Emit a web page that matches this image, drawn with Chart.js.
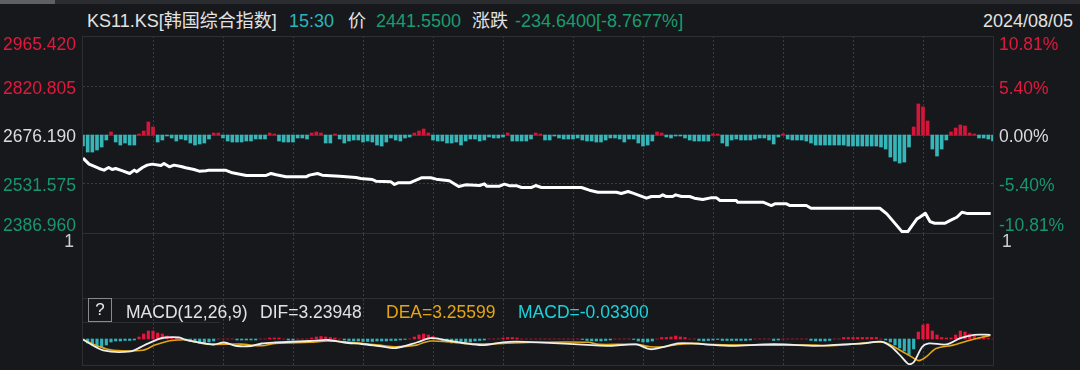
<!DOCTYPE html>
<html>
<head>
<meta charset="utf-8">
<title>KS11.KS 韩国综合指数 分时</title>
<script src="https://cdn.jsdelivr.net/npm/chart.js"></script>
<style>
  html, body { margin: 0; padding: 0; background: #16181c; }
  body { width: 1080px; height: 370px; position: relative; overflow: hidden;
         font-family: "Liberation Sans", "Noto Sans CJK SC", sans-serif; color: #e2e2e2; }
  .tabs { position: absolute; left: 0; top: 0; width: 1080px; height: 4px; background: #2a2c30; }
  .tabs .on { position: absolute; left: 0; top: 0; width: 55px; height: 4px; background: #5e6065; }
  .head { position: absolute; top: 11px; font-size: 18px; line-height: 20px; white-space: nowrap; }
  .legend { position: absolute; top: 302px; font-size: 17.5px; line-height: 20px; white-space: nowrap; }
  .qbox { position: absolute; left: 88px; top: 298px; width: 22px; height: 22px; border: 1px solid #8a8a8a;
          font-size: 17px; line-height: 22px; text-align: center; color: #e6e6e6; }
  .legline { position: absolute; left: 82px; top: 322px; width: 138px; height: 1px; background: #2c2e33; }
  canvas { position: absolute; left: 0; }
  #main { top: 0; }
  #macd { top: 298px; }
</style>
</head>
<body>

<div class="tabs"><div class="on"></div></div>

<span class="head" style="left:87px">KS11.KS[韩国综合指数]</span>
<span class="head" style="left:289px;color:#2ab5b9">15:30</span>
<span class="head" style="left:348px">价</span>
<span class="head" style="left:376px;color:#1a9d6e">2441.5500</span>
<span class="head" style="left:472px">涨跌</span>
<span class="head" style="left:515px;color:#1a9d6e">-234.6400[-8.7677%]</span>
<span class="head" style="right:7px">2024/08/05</span>

<canvas id="main" width="1080" height="298"></canvas>
<canvas id="macd" width="1080" height="72"></canvas>

<div class="qbox">?</div>
<div class="legline"></div>
<span class="legend" style="left:126px">MACD(12,26,9)</span>
<span class="legend" style="left:260px">DIF=3.23948</span>
<span class="legend" style="left:386px;color:#e5a412">DEA=3.25599</span>
<span class="legend" style="left:518px;color:#19d4dd">MACD=-0.03300</span>

<script>
// session: 09:00 - 15:30, x values are minutes since open
const SESSION_MINUTES = 390;
const GRID_MINUTES = [30, 60, 90, 120, 150, 180, 210, 240, 270, 300, 330, 360];

const PREV_CLOSE     = 2676.19;
const PRICE_AXIS_MIN = 2382.8;
const PRICE_AXIS_MAX = 2972.6;
const PRICE_TICKS    = [2965.42, 2820.805, 2676.19, 2531.575, 2386.96];
const PCT_TICKS      = [10.81, 5.40, 0, -5.40, -10.81];

// price line (minute, price)
const PRICE_T = [0, 2.6, 6.9, 9, 11, 12.5, 14, 17, 20, 22,
  23, 25.5, 27.5, 29.7, 33.4, 34.7, 37, 39, 42, 44,
  47.6, 49.8, 52.7, 54, 61, 64, 70, 78.5, 80.6, 82.8,
  87, 95.6, 97, 100.5, 102.5, 110, 117, 119, 124, 125.5,
  132, 133.5, 135, 140, 145, 149, 151.4, 157, 161, 164,
  170, 172, 173, 178.5, 180.6, 183, 186, 188, 192, 194,
  196.5, 213.6, 217, 220.7, 228.6, 230.7, 233.6, 235.7, 241.5, 243.6,
  247, 248.5, 250, 252.7, 254, 256.5, 260, 262, 265.6, 269,
  271.5, 273, 280, 280.5, 291.4, 295, 296.5, 301.5, 303, 310,
  312, 341.5, 344.5, 351, 353.5, 357.4, 358.6, 361, 363, 365,
  369.4, 371.5, 374.5, 376.7, 378.8, 389];
const PRICE_V = [2607, 2589, 2576, 2571, 2579, 2573, 2576, 2569, 2561, 2571,
  2566, 2579, 2586, 2589, 2585, 2591, 2581, 2586, 2582, 2578,
  2573, 2568, 2569, 2571, 2571, 2563, 2555, 2555, 2561, 2557,
  2551, 2551, 2556, 2561, 2556, 2553, 2549, 2546, 2543, 2538,
  2536, 2528, 2533, 2533, 2548, 2548, 2544, 2539, 2522, 2527,
  2525, 2530, 2523, 2523, 2529, 2524, 2524, 2519, 2519, 2525,
  2519, 2519, 2511, 2505, 2505, 2501, 2507, 2502, 2487, 2492,
  2492, 2497, 2492, 2492, 2497, 2492, 2492, 2487, 2483, 2488,
  2488, 2480, 2480, 2475, 2475, 2465, 2470, 2470, 2465, 2465,
  2457, 2457, 2440, 2386.96, 2386.96, 2425, 2430, 2442, 2417, 2412,
  2412, 2420, 2430, 2445, 2441.55, 2441.55];

// red/green strength bars around the previous-close line, one per 2 minutes
const BAR_STEP = 2;
const BAR_UNIT = 3;   // price points per bar unit
const MAIN_BARS = [
  -11, -17, -17, -15, -12, -5, 3, -7, -10, -8, -10, -10, 1, 4, 13, 8, -7, -5, -1, -3,
  -6, -4, -5, -8, -10, -9, -8, -4, 2, 2, -3, -6, -7, -7, -7, -6, -6, -4, -4, -4,
  2, 1, -6, -7, -7, -7, -3, -3, -4, 2, 3, 2, -8, -8, 1, -4, -8, -6, -5, -5,
  -7, -6, -7, -10, -11, -7,
  -3, -5, -6, -3, -2, 2, 4, 6, 2, -5, -6, -6, -8, -8, -7, -10, -6, -4, -4, -6,
  -5, -2, -3, -3, -2, 2, -6, -6, -6, -6, -4, 2, 1, -5, -5, -1, -3, -4, -4, -4,
  -3, -5, -6, -6, -7, -7, -5, -3, -3, -4, -7, -4, -4, -8, -11, -10, -6, 3, 2, -2,
  -3, -1, -1, -3, -5, -6,
  -6, -6, -6, 1, 1, -8, -11, -5, -4, -5, -5, -5, -4, -3, -3, -5, -9, -2, 1, -4,
  -5, -5, -5, -6, -8, -10, -10, -10, -10, -10, -10, -10, -11, -11, -11, -11, -11, -11, -11, -12,
  -14, -22, -26, -28, -27, -12, 8, 31, 28, 14, -14, -21, -14, -5, 3, 7, 10, 9, 2, 1,
  -3, -3, -4, -6];

// MACD(12,26,9)
const MACD_MIN = -26;
const MACD_MAX = 40;
const DIF_T = [0, 8.7, 20.5, 26.4, 32.3, 35.3, 41.2, 44.1, 51, 56,
  60.4, 66, 72, 76.6, 82.5, 97.3, 105, 112, 119.4, 126.8,
  134.2, 143, 148.9, 156.3, 163, 171.1, 179.9, 185.8, 194.7, 218,
  226, 237.2, 243.1, 249, 254.9, 260.8, 266.7, 278.5, 291.8, 300.7,
  314, 325.8, 334.6, 342, 346.4, 350.9, 353.8, 356, 359.7, 362.6,
  370, 376, 381.9, 388.9];
const DIF_V = [-0.5, -11.3, -12.3, -6.1, -0.2, 1.5, 1.5, -0.9, -4, -5.5,
  -3.5, -7, -7, -4.5, -3.5, -2, -1, -3.5, -5, -7,
  -9, -3.5, 0.8, -1.5, -4, -6.1, -3.3, -2.7, -3.3, -6.1,
  -6.8, -5.4, -10.2, -7.8, -4.4, -4.4, -5.4, -6.8, -5.4, -5.4,
  -6.8, -5.4, -4.4, -2.7, -7.8, -18.1, -25, -23.3, -7.8, -4.4,
  -5.4, 0.8, 4.2, 4.2];
const DEA_T = [0, 7.2, 13, 25.7, 30.8, 36.7, 41, 44.1, 53, 67.7,
  76.6, 82.5, 97.3, 105, 112, 119.4, 126.8, 134.2, 143, 146,
  148.9, 156.3, 163, 171.1, 179.9, 194.7, 216.5, 221, 237.2, 243.1,
  249, 254.9, 263.8, 266.7, 284.4, 314, 318.4, 328.7, 337.6, 343.5,
  349.4, 355.3, 358.2, 361.2, 365.6, 373, 378.9, 384.8, 388.9];
const DEA_V = [-0.5, -7.8, -11.3, -11.3, -6.1, -2, -1, -0.9, -5.1, -5.1,
  -6.8, -4.4, -3.3, -2, -2.7, -4.4, -6.1, -7.8, -6.1, -3.5,
  -2, -2.7, -4.4, -5.1, -4.4, -3.3, -3.3, -5.4, -5.4, -7.8,
  -7.8, -5.4, -4.4, -5.4, -6.1, -6.1, -6.8, -5.4, -3.3, -3.3,
  -10.2, -18.1, -21.6, -18.1, -9.5, -6.1, -2, 1.5, 3.5];
const MACD_HIST = [
  -1, -4, -6, -8, -8, -6, -3, -2, -2, -1.5, -1.5, -1, 2, 5, 8, 8, 6, 5, 3, 2,
  1, 0, -1, -2, -3, -4, -4, -3, -2, 0, 0, 0, 0, -1, -1, -1, -1, -1, 0, 0,
  1, 1, 1, 0, -1, -1, 0, 0, 0, 1, 2, 2.5, 2, 1.5, 1, 0, -1, -1.5, -2, -2,
  -2.5, -2.5, -2.5, -2, -2, -2, -1.5, -1.5, -1, -0.5, 0, 2, 4, 5, 4, 2.5, 1, -1.5, -3, -4,
  -4, -3.5, -3, -3, -2, -1.5, -1, 0, 0, 0, 1, 1.5, 1.5, 1, 0, 0, 0, 0, 0, 0,
  0, 0, 0, 0, 0, 0, 0, -0.5, -1.5, -2, -2, -2, -1.5, -1, 0, 0, 0, 0, -0.5, -2,
  -3, -3, -2, 0, 1.5, 1.5, 2, 3, 2, 1.5, 0, 0, -1.5, -2, -1.5, -1, -0.5, -1.5, -1.5, -1.5,
  -1.5, -1.5, -1.5, -1, 0, 0, 0, 0, -1.5, -1, 0, 0, 0, 0, 0, 0, -1.5, -2, -2, -2,
  -1.5, 0, 0, 1.5, 1.5, 1.5, 1.5, 1.5, 1.5, 1.5, 1.5, 0, -1, -3, -6, -9, -12, -16, -10, 7,
  14, 15, 8, 4, 1.5, 1, 1, 4, 8, 7, 5, 3, 1.5, 1, 0.5, 0];

const RED        = '#e2183c';
const GREEN      = '#16976c';
const WHITE_TXT  = '#dcdcdc';
const RED_BAR    = '#d51639';
const CYAN_BAR   = '#36b6b8';
const GRID_COLOR = '#3a3d42';
const FRAME      = '#2d2f34';
const LABEL_FONT = '17.5px "Liberation Sans", Arial, sans-serif';

function sideColor(d) {
  if (d > 1e-6) return RED;
  if (d < -1e-6) return GREEN;
  return WHITE_TXT;
}

function points(ts, vs) {
  return ts.map((t, i) => ({ x: t, y: vs[i] }));
}

function clampLabelY(p, area) {
  return Math.min(Math.max(p + 1, area.top + 8), area.bottom - 8) + 6.3;
}

const minuteAxis = {
  type: 'linear', min: 0, max: SESSION_MINUTES, offset: false,
  afterBuildTicks: s => { s.ticks = GRID_MINUTES.map(v => ({ value: v })); },
  ticks: { display: false },
  grid: { color: GRID_COLOR, drawTicks: false, offset: false },
  border: { display: false, dash: [2, 2] }
};

const mainDecor = {
  id: 'mainDecor',
  beforeDatasetsDraw(chart) {
    const { ctx, chartArea: a, scales } = chart;
    const y0 = Math.round(scales.y.getPixelForValue(PREV_CLOSE)) + 0.5;
    ctx.save();
    ctx.strokeStyle = '#35373c';
    ctx.lineWidth = 1;
    ctx.beginPath(); ctx.moveTo(a.left, y0); ctx.lineTo(a.right, y0); ctx.stroke();
    ctx.restore();
  },
  afterDraw(chart) {
    const { ctx, chartArea: a, scales } = chart;
    ctx.save();
    // price panel + empty volume band frames
    ctx.strokeStyle = FRAME;
    ctx.lineWidth = 1;
    ctx.strokeRect(a.left - 0.5, a.top + 0.5, a.right - a.left + 1, a.bottom - a.top);
    ctx.beginPath();
    ctx.moveTo(a.left - 0.5, a.bottom); ctx.lineTo(a.left - 0.5, chart.height);
    ctx.moveTo(a.right + 0.5, a.bottom); ctx.lineTo(a.right + 0.5, chart.height);
    ctx.stroke();
    ctx.strokeStyle = GRID_COLOR;
    ctx.setLineDash([2, 2]);
    ctx.beginPath();
    GRID_MINUTES.forEach(m => {
      const x = Math.round(scales.x.getPixelForValue(m)) + 0.5;
      ctx.moveTo(x, a.bottom + 1); ctx.lineTo(x, chart.height);
    });
    ctx.stroke();
    ctx.setLineDash([]);

    // axis labels
    ctx.font = LABEL_FONT;
    ctx.textBaseline = 'alphabetic';
    ctx.textAlign = 'right';
    PRICE_TICKS.forEach(v => {
      ctx.fillStyle = sideColor(v - PREV_CLOSE);
      ctx.fillText(v.toFixed(3), 76, clampLabelY(scales.y.getPixelForValue(v), a));
    });
    ctx.textAlign = 'left';
    PCT_TICKS.forEach(p => {
      ctx.fillStyle = sideColor(p);
      ctx.fillText(p.toFixed(2) + '%', 999, clampLabelY(scales.yPct.getPixelForValue(p), a));
    });
    ctx.fillStyle = '#cfcfcf';
    ctx.textAlign = 'right';
    ctx.fillText('1', 74, a.bottom + 13.8);
    ctx.textAlign = 'left';
    ctx.fillText('1', 1002, a.bottom + 13.8);
    ctx.restore();
  }
};

new Chart(document.getElementById('main'), {
  type: 'bar',
  data: {
    datasets: [
      {
        type: 'line',
        data: points(PRICE_T, PRICE_V),
        yAxisID: 'y',
        borderColor: '#ffffff',
        borderWidth: 3,
        borderJoinStyle: 'round',
        pointRadius: 0,
        tension: 0,
        order: 1
      },
      {
        type: 'bar',
        data: MAIN_BARS.map((v, i) => ({ x: i * BAR_STEP, y: v })),
        yAxisID: 'yBar',
        backgroundColor: c => (c.raw && c.raw.y >= 0) ? RED_BAR : CYAN_BAR,
        barThickness: 3,
        order: 2
      }
    ]
  },
  options: {
    responsive: false,
    animation: false,
    devicePixelRatio: 1,
    layout: { padding: { left: 83, right: 87, top: 36, bottom: 65 } },
    plugins: { legend: { display: false }, tooltip: { enabled: false } },
    scales: {
      x: minuteAxis,
      y: {
        min: PRICE_AXIS_MIN, max: PRICE_AXIS_MAX,
        afterBuildTicks: s => { s.ticks = PRICE_TICKS.map(v => ({ value: v })); },
        ticks: { display: false },
        grid: {
          drawTicks: false,
          color: c => {
            const v = c.tick && c.tick.value;
            return (v === PRICE_TICKS[1] || v === PRICE_TICKS[3]) ? GRID_COLOR : 'transparent';
          }
        },
        border: { display: false, dash: [2, 2] }
      },
      yPct: {
        display: false,
        min: (PRICE_AXIS_MIN / PREV_CLOSE - 1) * 100,
        max: (PRICE_AXIS_MAX / PREV_CLOSE - 1) * 100
      },
      yBar: {
        display: false,
        min: (PRICE_AXIS_MIN - PREV_CLOSE) / BAR_UNIT,
        max: (PRICE_AXIS_MAX - PREV_CLOSE) / BAR_UNIT
      }
    }
  },
  plugins: [mainDecor]
});

const macdFrame = {
  id: 'macdFrame',
  afterDraw(chart) {
    const { ctx, chartArea: a } = chart;
    ctx.save();
    ctx.strokeStyle = FRAME;
    ctx.lineWidth = 1;
    ctx.strokeRect(a.left - 0.5, a.top - 0.5, a.right - a.left + 1, a.bottom - a.top + 1);
    ctx.restore();
  }
};

new Chart(document.getElementById('macd'), {
  type: 'bar',
  data: {
    datasets: [
      {
        type: 'line',
        data: points(DIF_T, DIF_V),
        borderColor: '#eeeeee',
        borderWidth: 1.8,
        pointRadius: 0,
        tension: 0.3,
        order: 0
      },
      {
        type: 'line',
        data: points(DEA_T, DEA_V),
        borderColor: '#e2a514',
        borderWidth: 1.6,
        pointRadius: 0,
        tension: 0.3,
        order: 1
      },
      {
        type: 'bar',
        data: MACD_HIST.map((v, i) => ({ x: i * BAR_STEP, y: v })),
        backgroundColor: c => (c.raw && c.raw.y >= 0) ? '#e8163c' : '#2fb3b8',
        barThickness: 2.5,
        order: 2
      }
    ]
  },
  options: {
    responsive: false,
    animation: false,
    devicePixelRatio: 1,
    layout: { padding: { left: 83, right: 87, top: 1, bottom: 5 } },
    plugins: { legend: { display: false }, tooltip: { enabled: false } },
    scales: {
      x: minuteAxis,
      y: { display: false, min: MACD_MIN, max: MACD_MAX }
    }
  },
  plugins: [macdFrame]
});
</script>
</body>
</html>
